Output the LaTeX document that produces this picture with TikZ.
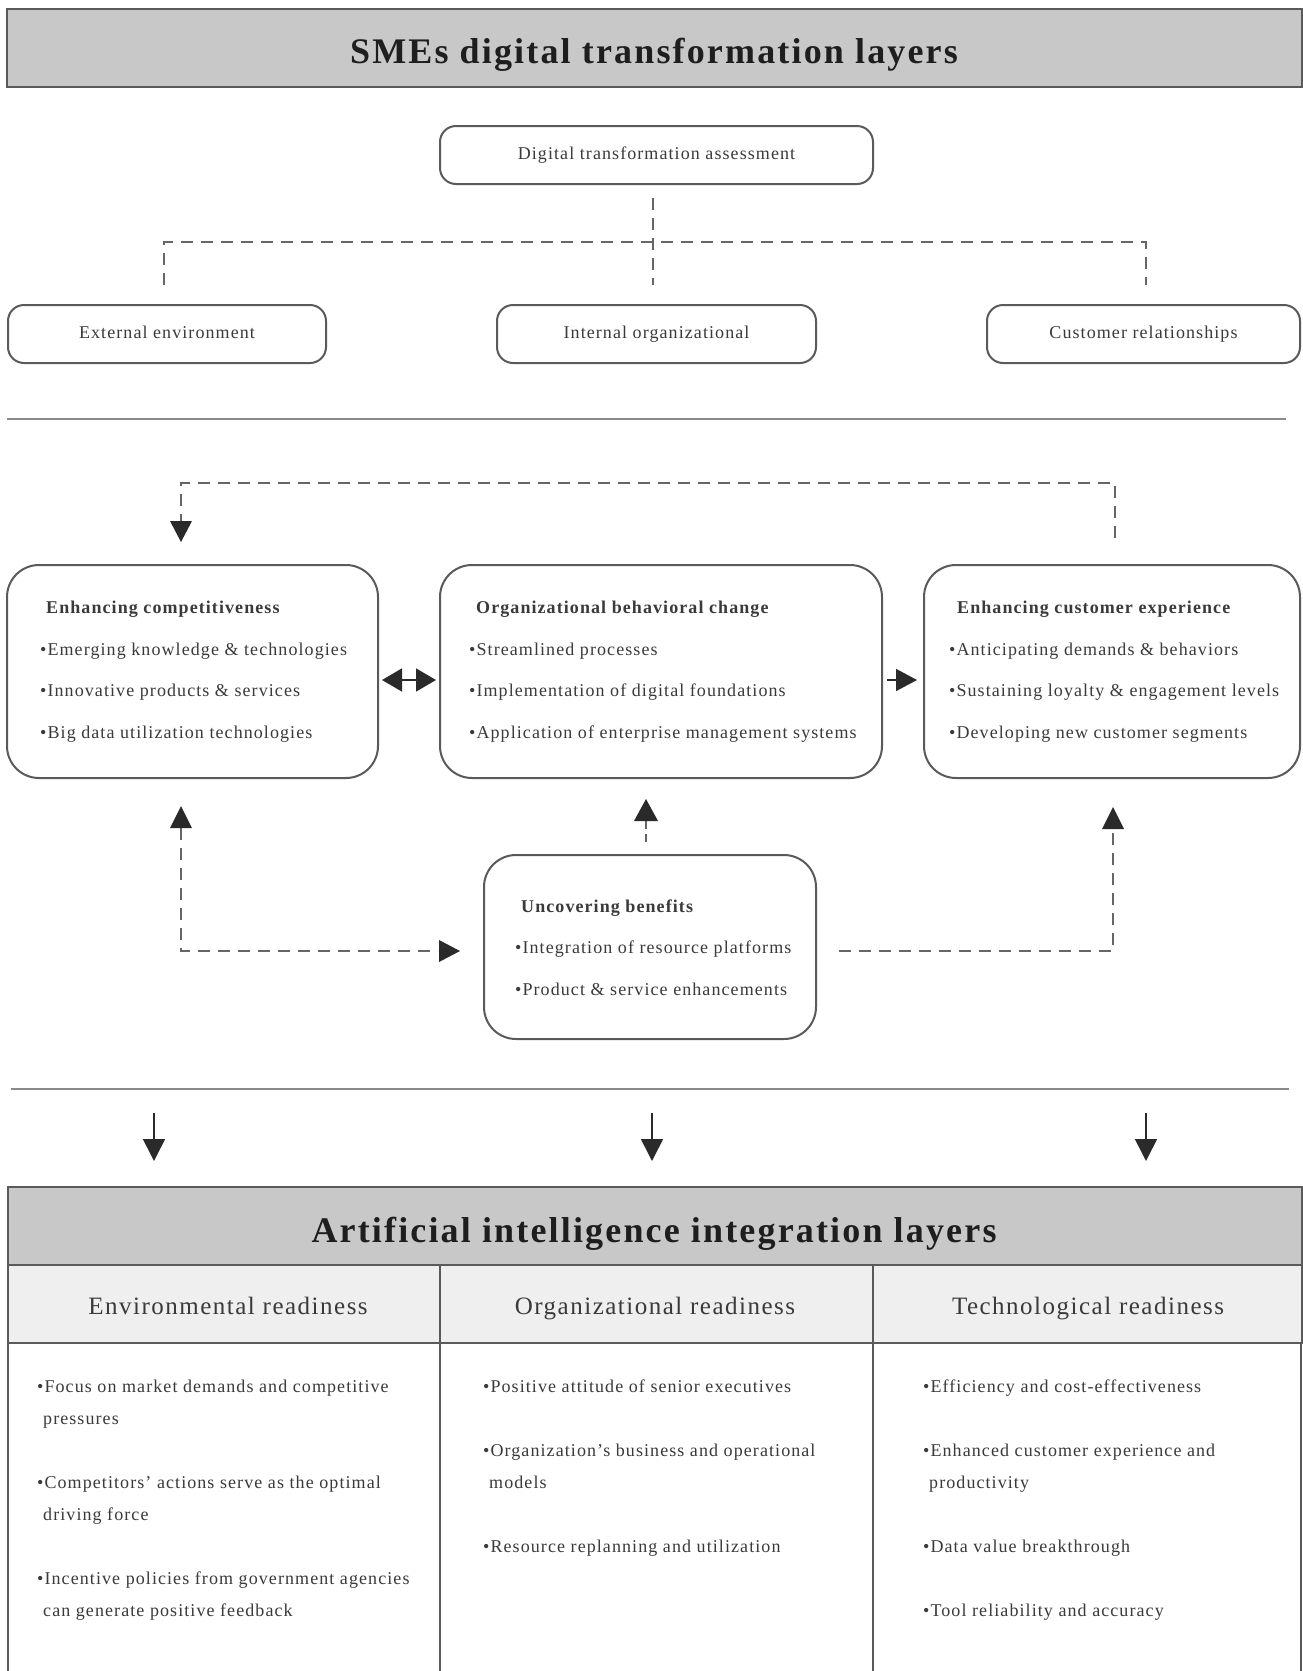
\documentclass[tikz,border=0pt]{standalone}
\usepackage{fontspec}
\setmainfont{Liberation Serif}[LetterSpace=6]
\usetikzlibrary{arrows.meta}
\definecolor{bannerfill}{HTML}{C8C8C8}
\definecolor{headfill}{HTML}{EFEFEF}
\definecolor{boxline}{HTML}{5A5A5A}
\definecolor{sepline}{HTML}{8A8A8A}
\definecolor{dashcol}{HTML}{666666}
\definecolor{textgray}{HTML}{3A3A3A}
\definecolor{titlecol}{HTML}{1E1E1E}
\definecolor{arrowcol}{HTML}{2A2A2A}
\begin{document}
\begin{tikzpicture}[x=1pt,y=-1pt,
  banner/.style={draw=boxline, line width=2.5pt, fill=bannerfill},
  headcell/.style={draw=boxline, line width=2pt, fill=headfill},
  bannertitle/.style={anchor=base, inner sep=0pt, text=titlecol, font=\fontsize{36}{40}\selectfont\bfseries},
  headtext/.style={anchor=base, inner sep=0pt, text=textgray, font=\fontsize{25}{30}\selectfont},
  smallbox/.style={draw=boxline, line width=2pt, rounded corners=16pt, minimum height=58pt, inner sep=0pt, text height=13pt, text depth=4pt, text=textgray, font=\fontsize{18}{22}\selectfont},
  bigbox/.style={draw=boxline, line width=2pt, rounded corners=32pt, inner sep=0pt},
  boxtext/.style={anchor=base west, align=left, inner sep=0pt, text=textgray, font=\fontsize{18}{41.5}\selectfont},
  celltext/.style={anchor=base west, align=left, inner sep=0pt, text=textgray, font=\fontsize{18}{32}\selectfont},
  sepstyle/.style={draw=sepline, line width=2pt},
  dashline/.style={draw=dashcol, line width=1.8pt, dash pattern=on 12pt off 8pt},
  arrowline/.style={draw=arrowcol, line width=1.5pt, color=arrowcol},
  ]
\useasboundingbox (0,0) rectangle (1302,1671);
\fill[white] (0,0) rectangle (1302,1671);

% ---------- top banner ----------
\path[banner] (7,9) rectangle (1302,87);
\node[bannertitle] (toptitle) at (654,63) {SMEs digital transformation layers};

% ---------- assessment tree ----------
\node[smallbox, minimum width=433pt] (dta) at (656.5,155) {Digital transformation assessment};
\node[smallbox, minimum width=318pt] (ext) at (167,334) {External environment};
\node[smallbox, minimum width=319pt] (int) at (656.5,334) {Internal organizational};
\node[smallbox, minimum width=313pt] (cus) at (1143.5,334) {Customer relationships};

\coordinate (t0) at (653,198);
\coordinate (t1) at (653,285);
\coordinate (tl) at (164,242);
\coordinate (tr) at (1146,242);
\coordinate (tlb) at (164,285);
\coordinate (trb) at (1146,285);
\draw[dashline] (t0) -- (t1);
\draw[dashline] (tlb) -- (tl) -- (tr) -- (trb);

\coordinate (s1a) at (7,419);
\coordinate (s1b) at (1286,419);
\draw[sepstyle] (s1a) -- (s1b);

% ---------- big boxes ----------
\node[bigbox, minimum width=371pt, minimum height=213pt] (b1) at (192.5,671.5) {};
\node[bigbox, minimum width=442pt, minimum height=213pt] (b2) at (661,671.5) {};
\node[bigbox, minimum width=376pt, minimum height=213pt] (b3) at (1112,671.5) {};
\node[bigbox, minimum width=332pt, minimum height=184pt] (b4) at (650,947) {};

% base anchor of a multi-line node = baseline of its last line
\node[boxtext] (b1t) at (46,738) {{\bfseries Enhancing competitiveness}\\
  \hspace*{-6pt}•Emerging knowledge \& technologies\\
  \hspace*{-6pt}•Innovative products \& services\\
  \hspace*{-6pt}•Big data utilization technologies};
\node[boxtext] (b2t) at (476,738) {{\bfseries Organizational behavioral change}\\
  \hspace*{-7pt}•Streamlined processes\\
  \hspace*{-7pt}•Implementation of digital foundations\\
  \hspace*{-7pt}•Application of enterprise management systems};
\node[boxtext] (b3t) at (957,738) {{\bfseries Enhancing customer experience}\\
  \hspace*{-8pt}•Anticipating demands \& behaviors\\
  \hspace*{-8pt}•Sustaining loyalty \& engagement levels\\
  \hspace*{-8pt}•Developing new customer segments};
\node[boxtext] (b4t) at (521,995) {{\bfseries Uncovering benefits}\\
  \hspace*{-6pt}•Integration of resource platforms\\
  \hspace*{-6pt}•Product \& service enhancements};

% feedback loop on top
\coordinate (f0) at (1115,538);
\coordinate (f1) at (1115,483);
\coordinate (f2) at (181,483);
\coordinate (f3) at (181,522);
\draw[dashline] (f0) -- (f1) -- (f2) -- (f3);
\fill[arrowcol] (170,521) -- (192,521) -- (181,542) -- cycle;

% arrows between the boxes
\coordinate (da1) at (382,680);
\coordinate (da2) at (436,680);
\draw[arrowline, {Triangle[length=20pt,width=23pt]}-{Triangle[length=20pt,width=23pt]}] (da1) -- (da2);
\coordinate (ra1) at (887,680);
\coordinate (ra2) at (917,680);
\draw[arrowline, -{Triangle[length=21pt,width=22pt]}] (ra1) -- (ra2);

% links from the benefits box
\coordinate (m0) at (646,842);
\coordinate (m1) at (646,820);
\draw[dashline, dash pattern=on 8pt off 5pt] (m0) -- (m1);
\fill[arrowcol] (634,821) -- (658,821) -- (646,799) -- cycle;

\coordinate (l0) at (181,951);
\coordinate (l1) at (181,828);
\coordinate (l2) at (438,951);
\draw[dashline] (l1) -- (l0) -- (l2);
\fill[arrowcol] (170,828) -- (192,828) -- (181,806) -- cycle;
\fill[arrowcol] (439,940) -- (439,962) -- (460,951) -- cycle;

\coordinate (r0) at (839,951);
\coordinate (r1) at (1113,951);
\coordinate (r2) at (1113,829);
\draw[dashline] (r0) -- (r1) -- (r2);
\fill[arrowcol] (1102,829) -- (1124,829) -- (1113,807) -- cycle;

\coordinate (s2a) at (11,1089);
\coordinate (s2b) at (1289,1089);
\draw[sepstyle] (s2a) -- (s2b);

% down arrows
\foreach \xx/\nm in {154/da, 652/db, 1146/dc}{
  \coordinate (\nm s) at (\xx,1113);
  \coordinate (\nm e) at (\xx,1161);
  \draw[arrowline, -{Triangle[length=22pt,width=22pt]}] (\nm s) -- (\nm e);
}

% ---------- bottom banner + table ----------
\path[banner] (8,1187) rectangle (1302,1265);
\node[bannertitle] (bottitle) at (654,1242) {Artificial intelligence integration layers};
\path[headcell] (8,1265) rectangle (1302,1343);
\draw[draw=boxline, line width=2pt] (8,1343) -- (8,1671);
\draw[draw=boxline, line width=2pt] (440,1265) -- (440,1671);
\draw[draw=boxline, line width=2pt] (873,1265) -- (873,1671);
\draw[draw=boxline, line width=2pt] (1301,1343) -- (1301,1671);

\node[headtext] (h1) at (228,1314) {Environmental readiness};
\node[headtext] (h2) at (655,1314) {Organizational readiness};
\node[headtext] (h3) at (1088,1314) {Technological readiness};

\node[celltext] (c1) at (37,1616) {•Focus on market demands and competitive\\
  \hspace*{6pt}pressures\\[32pt]
  •Competitors' actions serve as the optimal\\
  \hspace*{6pt}driving force\\[32pt]
  •Incentive policies from government agencies\\
  \hspace*{6pt}can generate positive feedback};
\node[celltext] (c2) at (483,1552) {•Positive attitude of senior executives\\[32pt]
  •Organization's business and operational\\
  \hspace*{6pt}models\\[32pt]
  •Resource replanning and utilization};
\node[celltext] (c3) at (923,1616) {•Efficiency and cost-effectiveness\\[32pt]
  •Enhanced customer experience and\\
  \hspace*{6pt}productivity\\[32pt]
  •Data value breakthrough\\[32pt]
  •Tool reliability and accuracy};
\end{tikzpicture}
\end{document}
